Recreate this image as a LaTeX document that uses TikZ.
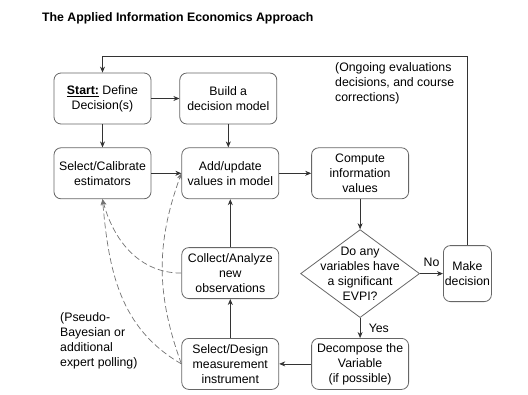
\documentclass[tikz,border=0pt]{standalone}
\usepackage{fontspec}
\setmainfont{Liberation Sans}
\usetikzlibrary{arrows.meta,positioning,shapes.geometric}

\begin{document}
\begin{tikzpicture}[
  font=\fontsize{12.3}{15}\selectfont,
  box/.style={rectangle, draw=black!60, line width=0.8pt, rounded corners=7pt, minimum width=97pt, minimum height=51pt, inner sep=2pt, align=center},
  decide/.style={diamond, draw=black!60, line width=0.8pt, minimum width=119pt, minimum height=88pt, inner sep=0pt},
  arr/.style={-{Stealth[length=6pt,width=5pt]}, draw=black!80, line width=0.7pt},
  back/.style={-{Stealth[length=6pt,width=5pt]}, draw=black!55, line width=0.7pt, dash pattern=on 6pt off 3pt},
  note/.style={align=left, inner sep=0pt}
]
  \useasboundingbox (0,0) rectangle (528pt,-394pt);
  \node[anchor=west, inner sep=0pt, font=\fontsize{12.3}{15}\selectfont\bfseries] (title) at (42pt,-18pt) {The Applied Information Economics Approach};

  \node[box] (start) at (102.5pt,-98.5pt) {\underline{\textbf{Start:}} Define\\Decision(s)};
  \node[box, right=28pt of start] (build) {Build a\\decision model};
  \node[box, below=23pt of start] (calib) {Select/Calibrate\\estimators};
  \node[box, right=30pt of calib] (update) {Add/update\\values in model};
  \node[box, right=32pt of update] (compute) {Compute\\information\\values};
  \node[decide, below=30pt of compute] (evpi) {};
  \node[align=center, inner sep=0pt] (evpitext) at (evpi) {Do any\\variables have\\a significant\\EVPI?};
  \node[box, right=23pt of evpi, minimum width=48pt, minimum height=56pt, inner sep=1pt] (decision) {Make\\decision};
  \node[box, below=20pt of evpi] (decompose) {Decompose the\\Variable\\(if possible)};
  \node[box, below=48pt of update] (collect) {Collect/Analyze\\new\\observations};
  \node[box, below=39pt of collect] (seldesign) {Select/Design\\measurement\\instrument};

  \node[note, anchor=north west] (ongoing) at (335pt,-62pt) {(Ongoing evaluations\\decisions, and course\\corrections)};
  \node[note, anchor=north west] (pseudo) at (60pt,-312pt) {(Pseudo-\\Bayesian or\\additional\\expert polling)};

  \draw[arr] (start) -- (build);
  \draw[arr] (start) -- (calib);
  \draw[arr] (build) -- (build |- update.north);
  \draw[arr] (calib) -- (update);
  \draw[arr] (update) -- (compute);
  \draw[arr] (compute) -- (evpi);
  \draw[arr] (evpi) -- node[above, yshift=3pt] (no) {No} (decision);
  \draw[arr] (evpi) -- node[right, xshift=5pt] (yes) {Yes} (decompose);
  \draw[arr] (decompose) -- (seldesign);
  \draw[arr] (seldesign) -- (collect);
  \draw[arr] (collect) -- (update);

  \coordinate[above=16pt of start] (loop);
  \draw[arr] (decision) |- (loop) -- (start);

  \draw[back] (collect.west) to[out=180, in=-75] (calib.south);
  \draw[back] (seldesign.west) to[out=150, in=-85] (calib.south);
  \draw[back] (seldesign.west) to[out=110, in=-110] (update.west);
\end{tikzpicture}
\end{document}
